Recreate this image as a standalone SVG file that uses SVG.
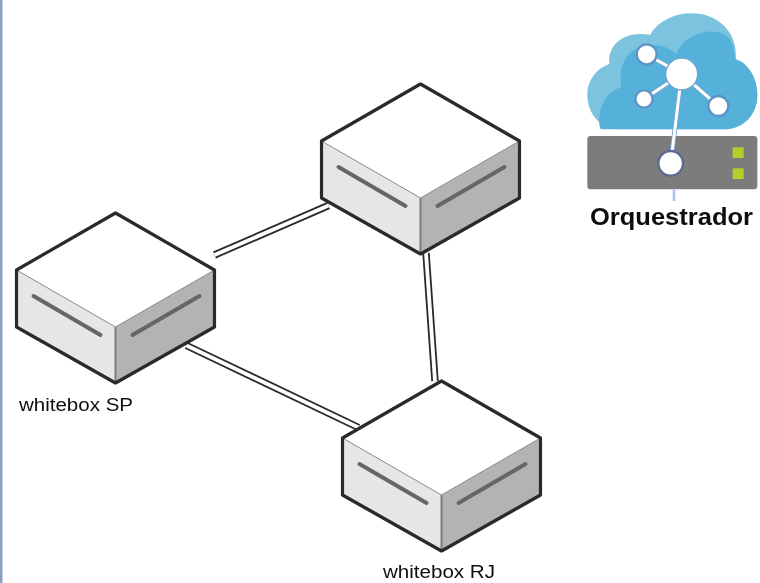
<svg xmlns="http://www.w3.org/2000/svg" width="760" height="583" viewBox="0 0 760 583">
<style>
text{font-family:"Liberation Sans",Arial,sans-serif;fill:#111}
.lbl{font-size:18px}
.ttl{font-size:24px;font-weight:bold}
.wo{fill:none;stroke:#2a2a2a;stroke-width:7.400}
.wi{fill:none;stroke:#fff;stroke-width:3.800}
.top{fill:#fff}
.l{fill:#e6e6e6}
.r{fill:#b3b3b3}
.edge{fill:none;stroke:#7d7d7d;stroke-width:2}
.thin{fill:none;stroke:#8a8a8a;stroke-width:1}
.bar{fill:none;stroke:#666;stroke-width:4;stroke-linecap:round}
.out{fill:none;stroke:#2a2a2a;stroke-width:3.200;stroke-linejoin:round}
</style>
<defs>
<filter id="soft" x="0" y="0" width="760" height="583" filterUnits="userSpaceOnUse"><feGaussianBlur stdDeviation="0.500"/></filter>
<g id="box">
<path class="top" d="M0 0L-99 57L0 114L99 57Z"/>
<path class="l" d="M-99 57L0 114L0 170L-99 114Z"/>
<path class="r" d="M99 57L0 114L0 170L99 114Z"/>
<path class="thin" d="M-99 57L0 114L99 57"/>
<path class="edge" d="M0 114V170"/>
<path class="bar" d="M-82 83L-15 122M17 122L84 83"/>
<path class="out" d="M0 0L-99 57V114L0 170L99 114V57Z"/>
</g>
</defs>
<rect width="760" height="583" fill="#fff"/>
<g filter="url(#soft)">
<rect id="border" x="0" y="0" width="2.500" height="583" fill="#8d9dc6"/>
<g id="connectors">
<path class="wo" d="M214.500 255L328.500 205.500"/><path class="wi" d="M214.500 255L328.500 205.500"/>
<path class="wo" d="M186.500 345.500L358.500 427.500"/><path class="wi" d="M186.500 345.500L358.500 427.500"/>
<path class="wo" d="M426 253L435 381"/><path class="wi" d="M426 253L435 381"/>
</g>
<g id="whitebox-top"><use href="#box" x="420.500" y="84"/></g>
<g id="whitebox-sp"><use href="#box" x="115.500" y="213"/><text class="lbl" x="19" y="411" textLength="114" lengthAdjust="spacingAndGlyphs">whitebox SP</text></g>
<g id="whitebox-rj"><use href="#box" x="441.500" y="381"/><text class="lbl" x="383" y="578" textLength="112" lengthAdjust="spacingAndGlyphs">whitebox RJ</text></g>
<g id="orquestrador">
<g transform="translate(570 0) scale(.33333)">
<path d="M150 388C90 388 52 340 52 285C52 240 80 205 118 192C112 135 160 92 240 104C265 62 315 40 365 40C440 40 505 95 497 178C535 190 562 235 562 285C562 345 520 388 460 388Z" fill="#7cc3e0"/>
<path d="M92 388C85 370 85 345 95 320C105 290 125 270 155 262C140 190 180 135 245 135C280 135 300 145 318 162C340 115 385 92 435 95C470 98 490 115 497 178C535 190 562 235 562 285C562 345 520 388 460 388Z" fill="#55b1d9"/>
<rect x="52" y="408" width="510" height="160" rx="10" fill="#7b7b7b"/>
<rect x="488" y="442" width="33" height="32" fill="#b5cf2a"/>
<rect x="488" y="505" width="33" height="32" fill="#b5cf2a"/>
<path d="M312 568V603" stroke="#a9c9ec" stroke-width="8" fill="none"/>
<path d="M335 222L230 163M335 222L222 297M335 222L445 318M335 222L302 490" stroke="#6ea5d0" stroke-width="14" fill="none"/>
<path d="M335 222L230 163M335 222L222 297M335 222L445 318M335 222L302 490" stroke="#fff" stroke-width="9" fill="none"/>
<circle cx="335" cy="222" r="48" fill="#fff" stroke="#6ea5d0" stroke-width="4"/>
<circle cx="230" cy="163" r="30" fill="#fff" stroke="#5c94c8" stroke-width="7"/>
<circle cx="222" cy="297" r="26" fill="#fff" stroke="#5c94c8" stroke-width="7"/>
<circle cx="445" cy="318" r="30" fill="#fff" stroke="#5c94c8" stroke-width="7"/>
<circle cx="302" cy="490" r="37" fill="#fff" stroke="#5c6a96" stroke-width="7"/>
</g>
<text class="ttl" x="590" y="225" textLength="163" lengthAdjust="spacingAndGlyphs">Orquestrador</text>
</g>
</g>
</svg>
